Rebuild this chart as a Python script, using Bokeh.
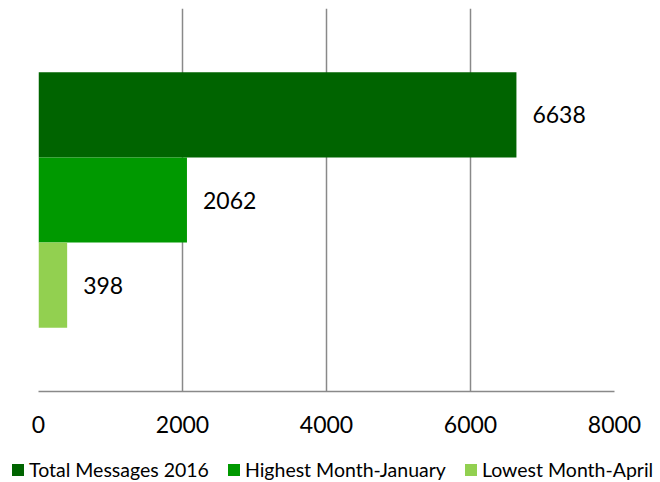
from bokeh.plotting import figure
from bokeh.layouts import column, row
from bokeh.models import ColumnDataSource, Range1d, Legend, LegendItem, FixedTicker
from bokeh.core.properties import value
from bokeh.embed import file_html
from bokeh.resources import INLINE

series = ["Total Messages 2016", "Highest Month-January", "Lowest Month-April"]
values = [6638, 2062, 398]
colors = ["#006400", "#009900", "#92D050"]
x_ticks = [0, 2000, 4000, 6000, 8000]

FONT = "Lato"
n = len(series)
ys = [n - 1 - i for i in range(n)]

src = ColumnDataSource(dict(
    y=ys, v=values, c=colors, name=series, lbl=[str(v) for v in values]))

p = figure(width=660, height=440, output_backend="svg", toolbar_location=None,
           x_range=Range1d(0, 8000), y_range=Range1d(-1.25, n - 1 + 1.25),
           y_axis_location=None, min_border_left=38, min_border_right=46,
           min_border_top=8, min_border_bottom=49)
p.outline_line_color = None
p.background_fill_color = "white"
p.border_fill_color = "white"

p.hbar(y="y", right="v", left=0, height=1.0, source=src,
       fill_color="c", line_color=None)

p.text(x="v", y="y", text="lbl", source=src, x_offset=16,
       text_baseline="middle", text_align="left",
       text_font=value(FONT), text_font_size="23px", text_color="black")

p.xgrid.ticker = FixedTicker(ticks=x_ticks)
p.xgrid.grid_line_color = "#898989"
p.xgrid.grid_line_width = 1.5
p.ygrid.visible = False

ax = p.xaxis[0]
ax.ticker = FixedTicker(ticks=x_ticks)
ax.axis_line_color = "#898989"
ax.axis_line_width = 1.5
ax.major_tick_line_color = None
ax.minor_tick_line_color = None
ax.major_label_text_font = FONT
ax.major_label_text_font_size = "23px"
ax.major_label_text_color = "black"
ax.major_label_standoff = 18

# legend strip below the chart (its own full-width frame)
lf = figure(width=660, height=42, output_backend="svg", toolbar_location=None,
            x_range=Range1d(0, 1), y_range=Range1d(0, 1),
            x_axis_location=None, y_axis_location=None,
            min_border_left=0, min_border_right=0, min_border_top=0, min_border_bottom=0)
lf.outline_line_color = None
lf.grid.visible = False
lf.border_fill_color = "white"

items = []
for i in range(n):
    r = lf.hbar(y=[-5], right=[values[i]], left=0, height=1.0,
                fill_color=colors[i], line_color=None)
    items.append(LegendItem(label=series[i], renderers=[r]))

legend = Legend(items=items, orientation="horizontal", location=(10, 1),
                glyph_width=15, glyph_height=15, label_standoff=4, spacing=17,
                padding=0, margin=0, border_line_color=None,
                background_fill_alpha=0,
                label_text_font=FONT, label_text_font_size="19.5px",
                label_text_color="black")
lf.add_layout(legend, "center")

open("out.html", "w").write(file_html(column(p, row(lf), spacing=0), INLINE))
